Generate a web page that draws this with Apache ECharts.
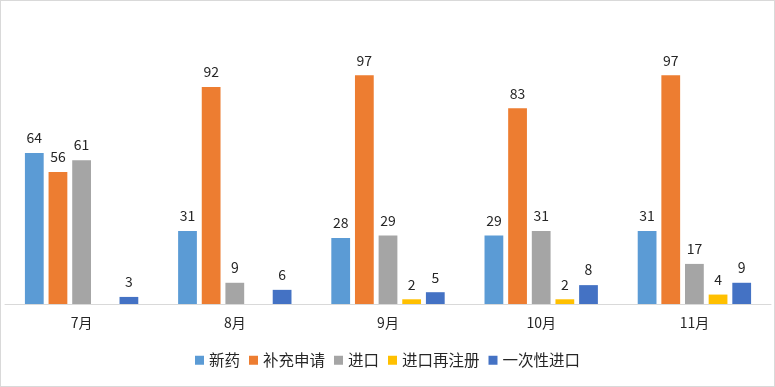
<!DOCTYPE html>
<html><head><meta charset="utf-8">
<script src="https://cdn.jsdelivr.net/npm/echarts@6/dist/echarts.min.js"></script>
<style>
html,body{margin:0;padding:0;background:#fff;}
#c{width:773px;height:385px;border:1px solid #D9D9D9;}
</style></head>
<body><div id="c"></div>
<script>
const categories = ['7月','8月','9月','10月','11月'];
const seriesNames = ['新药','补充申请','进口','进口再注册','一次性进口'];
const xinyao = [64, 31, 28, 29, 31];
const buchong = [56, 92, 97, 83, 97];
const jinkou = [61, 9, 29, 31, 17];
const zaizhuce = [null, null, 2, 2, 4];
const yicixing = [3, 6, 5, 8, 9];
const values = [xinyao, buchong, jinkou, zaizhuce, yicixing];
const colors = ['#5B9BD5','#ED7D31','#A5A5A5','#FFC000','#4472C4'];
const font = '"Noto Sans CJK SC", "Microsoft YaHei", sans-serif';

const chart = echarts.init(document.getElementById('c'));
chart.setOption({
  animation: false,
  textStyle: { fontFamily: font },
  grid: { left: 4, right: 3, top: 20, bottom: 82, containLabel: false },
  legend: {
    bottom: 13, left: 'center', itemWidth: 9, itemHeight: 9, itemGap: 9,
    icon: 'rect',
    textStyle: { fontSize: 15.5, color: '#262626', fontFamily: font },
    data: seriesNames
  },
  xAxis: {
    type: 'category', data: categories,
    axisLine: { lineStyle: { color: '#D9D9D9' } },
    axisTick: { show: false },
    axisLabel: { color: '#262626', fontSize: 14, margin: 12, fontFamily: font }
  },
  yAxis: {
    type: 'value', min: 0, max: 120, interval: 20,
    show: false, splitLine: { show: false }
  },
  series: seriesNames.map((n, i) => ({
    name: n, type: 'bar', data: values[i],
    barGap: '26%', barCategoryGap: '26%',
    itemStyle: { color: colors[i] },
    label: { show: true, position: 'top', distance: 8, color: '#262626', fontSize: 14, fontFamily: font }
  }))
});
</script></body></html>
